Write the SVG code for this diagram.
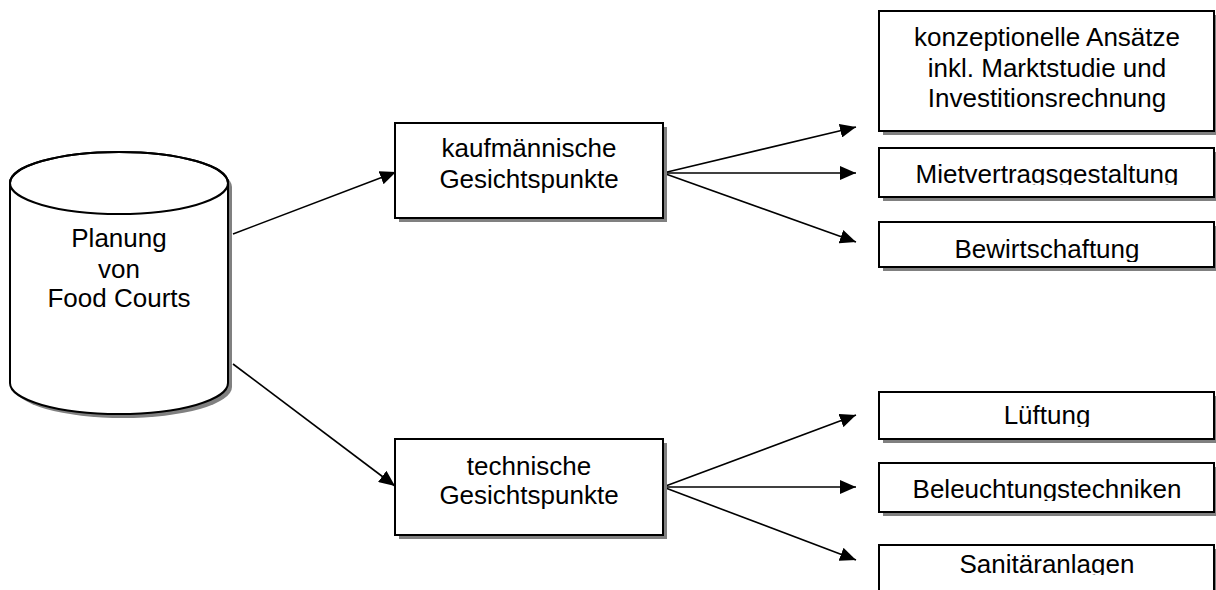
<svg xmlns="http://www.w3.org/2000/svg" width="1216" height="590" viewBox="0 0 1216 590">
<style>
.box{fill:#fff;stroke:#000;stroke-width:2}
.shadow{fill:#808080;stroke:none}
.lbl{font-family:"Liberation Sans",Arial,sans-serif;font-size:26px;fill:#000;text-anchor:middle}
.conn{stroke:#000;stroke-width:1.6;fill:none;marker-end:url(#arrow)}
</style>
<defs>
<marker id="arrow" markerUnits="userSpaceOnUse" markerWidth="16" markerHeight="14" refX="16" refY="7" orient="auto">
<path d="M0,0 L16,7 L0,14 Z" fill="#000"/>
</marker>
<clipPath id="clipMiet" clipPathUnits="userSpaceOnUse"><rect x="879" y="148" width="337" height="37"/></clipPath>
<clipPath id="clipBew" clipPathUnits="userSpaceOnUse"><rect x="879" y="222" width="337" height="40"/></clipPath>
<clipPath id="clipLuef" clipPathUnits="userSpaceOnUse"><rect x="879" y="392" width="337" height="35"/></clipPath>
<clipPath id="clipBel" clipPathUnits="userSpaceOnUse"><rect x="879" y="463" width="337" height="38"/></clipPath>
<clipPath id="clipSan" clipPathUnits="userSpaceOnUse"><rect x="879" y="545" width="337" height="30"/></clipPath>
</defs>

<g id="connectors">
<line class="conn" x1="233" y1="234" x2="396" y2="172"/>
<line class="conn" x1="233" y1="364" x2="395" y2="486"/>
<line class="conn" x1="663" y1="173" x2="856" y2="127"/>
<line class="conn" x1="663" y1="173" x2="856" y2="173"/>
<line class="conn" x1="663" y1="173" x2="856" y2="242"/>
<line class="conn" x1="663" y1="487" x2="856" y2="415"/>
<line class="conn" x1="663" y1="487" x2="856" y2="487"/>
<line class="conn" x1="663" y1="487" x2="856" y2="560"/>
</g>

<g id="planung">
<path class="shadow" transform="translate(4,4)" d="M10,183 A109,31 0 0 1 228,183 L228,383 A109,31 0 0 1 10,383 Z"/>
<path class="box" d="M10,183 A109,31 0 0 1 228,183 L228,383 A109,31 0 0 1 10,383 Z"/>
<ellipse class="box" cx="119" cy="183" rx="109" ry="31" style="fill:none"/>
<text class="lbl" x="119" y="247">Planung</text>
<text class="lbl" x="119" y="278">von</text>
<text class="lbl" x="119" y="307">Food Courts</text>
</g>

<g id="kaufmaennisch">
<rect class="shadow" x="399" y="127" width="268" height="95"/>
<rect class="box" x="395" y="123" width="268" height="95"/>
<text class="lbl" x="529" y="157">kaufmännische</text>
<text class="lbl" x="529" y="188">Gesichtspunkte</text>
</g>

<g id="technisch">
<rect class="shadow" x="399" y="443" width="268" height="96"/>
<rect class="box" x="395" y="439" width="268" height="96"/>
<text class="lbl" x="529" y="475">technische</text>
<text class="lbl" x="529" y="504">Gesichtspunkte</text>
</g>

<g id="konzept">
<rect class="shadow" x="883" y="15" width="335" height="120"/>
<rect class="box" x="879" y="11" width="335" height="120"/>
<text class="lbl" x="1047" y="46">konzeptionelle Ansätze</text>
<text class="lbl" x="1047" y="77">inkl. Marktstudie und</text>
<text class="lbl" x="1047" y="107">Investitionsrechnung</text>
</g>

<g id="miet">
<rect class="shadow" x="883" y="152" width="335" height="49"/>
<rect class="box" x="879" y="148" width="335" height="49"/>
<text class="lbl" x="1047" y="183" clip-path="url(#clipMiet)">Mietvertragsgestaltung</text>
</g>

<g id="bewirtschaftung">
<rect class="shadow" x="883" y="226" width="335" height="45"/>
<rect class="box" x="879" y="222" width="335" height="45"/>
<text class="lbl" x="1047" y="258" clip-path="url(#clipBew)">Bewirtschaftung</text>
</g>

<g id="lueftung">
<rect class="shadow" x="883" y="396" width="335" height="47"/>
<rect class="box" x="879" y="392" width="335" height="47"/>
<text class="lbl" x="1047" y="424" clip-path="url(#clipLuef)">Lüftung</text>
</g>

<g id="beleuchtung">
<rect class="shadow" x="883" y="467" width="335" height="49"/>
<rect class="box" x="879" y="463" width="335" height="49"/>
<text class="lbl" x="1047" y="498" clip-path="url(#clipBel)">Beleuchtungstechniken</text>
</g>

<g id="sanitaer">
<rect class="shadow" x="883" y="549" width="335" height="60"/>
<rect class="box" x="879" y="545" width="335" height="60"/>
<text class="lbl" x="1047" y="573" clip-path="url(#clipSan)">Sanitäranlagen</text>
</g>
</svg>
